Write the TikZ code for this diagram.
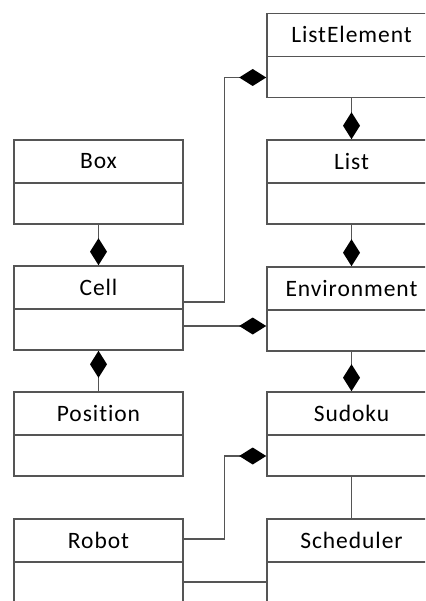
\documentclass[tikz,border=0pt]{standalone}
\usepackage{fontspec}
\setmainfont{Carlito}[Ligatures=NoCommon, LetterSpace=4]
\usetikzlibrary{arrows.meta,calc}

\definecolor{edge}{HTML}{555555}

\tikzset{
  x=1pt, y=-1pt,
  cls/.style={draw=edge, line width=1.6pt, minimum width=169pt, minimum height=84pt, inner sep=0pt, fill=white},
  clsname/.style={font=\fontsize{23.5}{25}\selectfont, inner sep=0pt, anchor=center},
  divider/.style={draw=edge, line width=1.6pt},
  link/.style={draw=edge, line width=1.3pt},
  compo/.style={link, -{Diamond[length=27pt, width=17pt, color=black, fill=black, line width=0pt]}},
}

% class box: full rectangle, name compartment, divider line
\newcommand{\umlclass}[4]{%
  \node[cls] (#1) at (#2,#3) {};
  \node[clsname] (#1-name) at ($(#1.north)+(0,-22pt)$) {#4};
  \draw[divider] ([yshift=-44pt]#1.north west) -- ([yshift=-44pt]#1.north east);
}

\begin{document}
\begin{tikzpicture}
\useasboundingbox (0,0) rectangle (425,601);
\clip (0,0) rectangle (425,601);
\fill[white] (0,0) rectangle (425,601);

% left column
\umlclass{box}{98.5}{182}{Box}
\umlclass{cell}{98.5}{308}{Cell}
\umlclass{pos}{98.5}{434}{Position}
\umlclass{robot}{98.5}{561}{Robot}

% right column
\umlclass{le}{351.5}{55.5}{ListElement}
\umlclass{list}{351.5}{182}{List}
\umlclass{env}{351.5}{309}{Environment}
\umlclass{sud}{351.5}{434}{Sudoku}
\umlclass{sched}{351.5}{561}{Scheduler}

% vertical compositions
\draw[compo] (box.south) -- (cell.north);
\draw[compo] (pos.north) -- (cell.south);
\draw[compo] (le.south) -- (list.north);
\draw[compo] (list.south) -- (env.north);
\draw[compo] (env.south) -- (sud.north);
\draw[link] (sud.south) -- (sched.north);

% cross links
\draw[compo] ([yshift=6pt]cell.east) -- ++(41,0) |- ([yshift=-22pt]le.west);
\draw[compo] ([yshift=-18pt]cell.east) -- ([yshift=-18pt]cell.east -| env.west);
\draw[compo] ([yshift=22pt]robot.east) -- ++(41,0) |- ([yshift=-22pt]sud.west);
\draw[link] ([yshift=-21pt]robot.east) -- ([yshift=-21pt]robot.east -| sched.west);
\end{tikzpicture}
\end{document}
